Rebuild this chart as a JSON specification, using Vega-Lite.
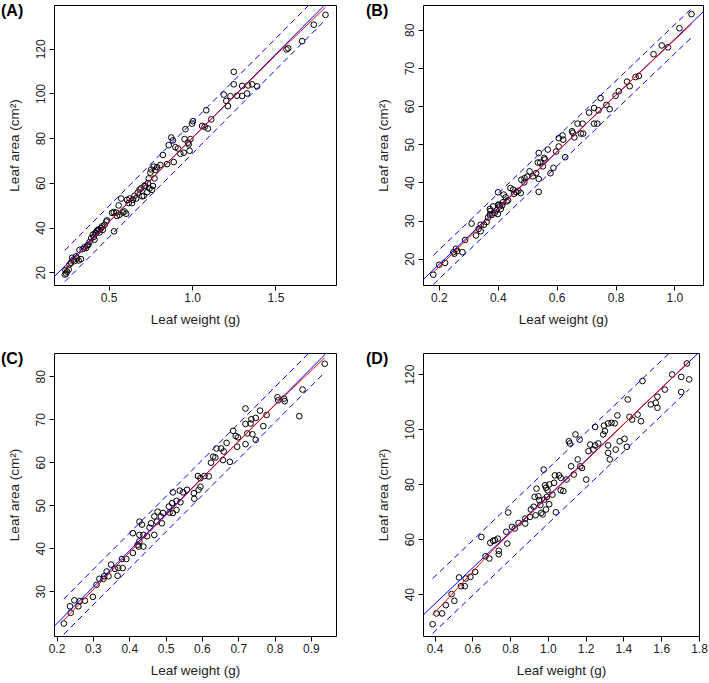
{
"$schema": "https://vega.github.io/schema/vega-lite/v6.json",
"background": "white",
"padding": {"left": 0, "top": 2, "right": 0, "bottom": 2},
"datasets": {
"ptsA": [
{"x":0.237,"y":19.0},{"x":0.24,"y":21.0},{"x":0.245,"y":19.4},{"x":0.25,"y":20.3},{"x":0.26,"y":21.2},{"x":0.265,"y":23.5},{"x":0.274,"y":24.2},{"x":0.28,"y":26.5},{"x":0.288,"y":25.6},{"x":0.295,"y":25.0},{"x":0.304,"y":27.1},{"x":0.31,"y":26.2},{"x":0.32,"y":25.3},{"x":0.325,"y":30.0},{"x":0.334,"y":25.9},{"x":0.344,"y":30.4},{"x":0.355,"y":31.2},{"x":0.364,"y":30.8},{"x":0.372,"y":32.0},{"x":0.378,"y":32.3},{"x":0.385,"y":33.5},{"x":0.395,"y":35.3},{"x":0.405,"y":36.8},{"x":0.41,"y":35.8},{"x":0.415,"y":34.6},{"x":0.42,"y":37.6},{"x":0.425,"y":37.5},{"x":0.43,"y":38.7},{"x":0.435,"y":38.4},{"x":0.44,"y":39.2},{"x":0.445,"y":37.8},{"x":0.455,"y":39.8},{"x":0.46,"y":40.5},{"x":0.465,"y":39.0},{"x":0.475,"y":41.2},{"x":0.485,"y":42.7},{"x":0.49,"y":43.2},{"x":0.532,"y":38.3},{"x":0.52,"y":46.6},{"x":0.53,"y":46.9},{"x":0.545,"y":46.7},{"x":0.55,"y":45.2},{"x":0.56,"y":49.9},{"x":0.565,"y":45.7},{"x":0.575,"y":53.0},{"x":0.585,"y":46.8},{"x":0.595,"y":47.2},{"x":0.605,"y":46.2},{"x":0.61,"y":52.4},{"x":0.62,"y":51.0},{"x":0.625,"y":53.0},{"x":0.64,"y":50.9},{"x":0.645,"y":52.4},{"x":0.655,"y":54.2},{"x":0.665,"y":53.0},{"x":0.675,"y":55.7},{"x":0.685,"y":57.0},{"x":0.695,"y":57.6},{"x":0.70,"y":54.0},{"x":0.71,"y":54.2},{"x":0.715,"y":58.8},{"x":0.72,"y":58.6},{"x":0.73,"y":55.8},{"x":0.735,"y":59.8},{"x":0.74,"y":62.0},{"x":0.745,"y":57.5},{"x":0.75,"y":64.6},{"x":0.755,"y":66.0},{"x":0.76,"y":56.9},{"x":0.765,"y":58.6},{"x":0.77,"y":67.3},{"x":0.775,"y":62.0},{"x":0.78,"y":65.8},{"x":0.79,"y":67.0},{"x":0.81,"y":68.0},{"x":0.825,"y":72.5},{"x":0.85,"y":68.4},{"x":0.86,"y":76.9},{"x":0.875,"y":80.3},{"x":0.885,"y":79.0},{"x":0.89,"y":69.3},{"x":0.90,"y":76.0},{"x":0.915,"y":75.4},{"x":0.93,"y":73.0},{"x":0.95,"y":73.5},{"x":0.955,"y":79.6},{"x":0.96,"y":84.0},{"x":0.975,"y":78.0},{"x":0.98,"y":77.2},{"x":0.985,"y":74.4},{"x":0.99,"y":79.6},{"x":1.0,"y":86.5},{"x":1.005,"y":87.6},{"x":1.06,"y":85.5},{"x":1.075,"y":85.1},{"x":1.085,"y":92.5},{"x":1.095,"y":84.3},{"x":1.115,"y":88.4},{"x":1.19,"y":99.5},{"x":1.205,"y":96.7},{"x":1.215,"y":94.4},{"x":1.23,"y":98.8},{"x":1.25,"y":109.7},{"x":1.25,"y":104.1},{"x":1.27,"y":99.0},{"x":1.30,"y":103.4},{"x":1.30,"y":98.9},{"x":1.33,"y":100.0},{"x":1.336,"y":103.6},{"x":1.36,"y":104.1},{"x":1.39,"y":103.2},{"x":1.566,"y":119.7},{"x":1.576,"y":120.2},{"x":1.66,"y":123.4},{"x":1.73,"y":130.8},{"x":1.80,"y":135.2}
],
"linA": [
{"s":"fit","x":0.10,"y":12.5},{"s":"fit","x":1.95,"y":151.25},
{"s":"upper","x":0.237,"y":29.8},{"s":"upper","x":1.80,"y":147.0},
{"s":"lower","x":0.237,"y":15.8},{"s":"lower","x":1.80,"y":133.0},
{"s":"smooth","x":0.237,"y":21.5},{"s":"smooth","x":0.5,"y":42.3},{"s":"smooth","x":0.8,"y":65.2},{"s":"smooth","x":1.0,"y":80.0},{"s":"smooth","x":1.3,"y":102.2},{"s":"smooth","x":1.5,"y":117.0},{"s":"smooth","x":1.80,"y":138.6}
],
"ptsB": [
{"x":0.181,"y":15.8},{"x":0.201,"y":18.4},{"x":0.221,"y":18.9},{"x":0.249,"y":21.7},{"x":0.252,"y":21.3},{"x":0.258,"y":22.6},{"x":0.262,"y":22.0},{"x":0.28,"y":21.7},{"x":0.289,"y":24.9},{"x":0.311,"y":29.2},{"x":0.326,"y":26.1},{"x":0.335,"y":27.8},{"x":0.342,"y":27.2},{"x":0.342,"y":28.9},{"x":0.353,"y":28.9},{"x":0.362,"y":29.6},{"x":0.367,"y":30.8},{"x":0.373,"y":33.0},{"x":0.373,"y":31.5},{"x":0.375,"y":32.5},{"x":0.38,"y":31.5},{"x":0.384,"y":33.7},{"x":0.39,"y":32.0},{"x":0.396,"y":32.7},{"x":0.40,"y":31.7},{"x":0.401,"y":37.4},{"x":0.401,"y":34.1},{"x":0.405,"y":34.2},{"x":0.407,"y":33.7},{"x":0.41,"y":33.0},{"x":0.415,"y":34.0},{"x":0.418,"y":34.8},{"x":0.42,"y":36.8},{"x":0.427,"y":36.1},{"x":0.43,"y":35.0},{"x":0.435,"y":35.3},{"x":0.443,"y":38.5},{"x":0.452,"y":38.1},{"x":0.455,"y":37.0},{"x":0.463,"y":37.4},{"x":0.47,"y":37.8},{"x":0.478,"y":37.2},{"x":0.48,"y":40.7},{"x":0.49,"y":40.0},{"x":0.491,"y":41.1},{"x":0.50,"y":41.5},{"x":0.508,"y":42.9},{"x":0.519,"y":41.6},{"x":0.53,"y":42.4},{"x":0.536,"y":45.2},{"x":0.539,"y":47.7},{"x":0.539,"y":40.9},{"x":0.539,"y":37.5},{"x":0.544,"y":45.2},{"x":0.553,"y":44.2},{"x":0.558,"y":46.4},{"x":0.56,"y":46.0},{"x":0.57,"y":48.6},{"x":0.579,"y":42.4},{"x":0.589,"y":43.8},{"x":0.598,"y":48.1},{"x":0.607,"y":51.6},{"x":0.607,"y":49.4},{"x":0.62,"y":52.3},{"x":0.622,"y":51.2},{"x":0.629,"y":46.6},{"x":0.652,"y":53.4},{"x":0.655,"y":53.0},{"x":0.66,"y":51.8},{"x":0.671,"y":55.4},{"x":0.682,"y":52.8},{"x":0.69,"y":52.8},{"x":0.688,"y":55.4},{"x":0.71,"y":58.3},{"x":0.727,"y":59.5},{"x":0.727,"y":55.4},{"x":0.738,"y":55.4},{"x":0.742,"y":58.9},{"x":0.749,"y":62.1},{"x":0.769,"y":60.3},{"x":0.78,"y":59.2},{"x":0.80,"y":62.7},{"x":0.811,"y":63.9},{"x":0.839,"y":66.4},{"x":0.848,"y":65.2},{"x":0.868,"y":67.6},{"x":0.879,"y":67.9},{"x":0.929,"y":73.6},{"x":0.957,"y":75.9},{"x":0.978,"y":75.4},{"x":1.017,"y":80.4},{"x":1.058,"y":84.1}
],
"linB": [
{"s":"fit","x":0.10,"y":11.08},{"s":"fit","x":1.15,"y":88.57},
{"s":"upper","x":0.181,"y":20.86},{"s":"upper","x":1.058,"y":85.58},
{"s":"lower","x":0.181,"y":13.26},{"s":"lower","x":1.058,"y":77.98},
{"s":"smooth","x":0.181,"y":16.4},{"s":"smooth","x":0.4,"y":33.0},{"s":"smooth","x":0.6,"y":47.9},{"s":"smooth","x":0.8,"y":62.8},{"s":"smooth","x":1.058,"y":81.5}
],
"ptsC": [
{"x":0.22,"y":22.5},{"x":0.237,"y":26.5},{"x":0.239,"y":25.0},{"x":0.249,"y":27.9},{"x":0.26,"y":26.5},{"x":0.264,"y":27.7},{"x":0.278,"y":27.8},{"x":0.30,"y":28.7},{"x":0.31,"y":31.5},{"x":0.318,"y":32.9},{"x":0.329,"y":32.9},{"x":0.331,"y":33.5},{"x":0.338,"y":34.6},{"x":0.343,"y":33.5},{"x":0.35,"y":36.2},{"x":0.361,"y":35.2},{"x":0.368,"y":33.6},{"x":0.37,"y":35.4},{"x":0.38,"y":37.5},{"x":0.382,"y":35.4},{"x":0.392,"y":37.5},{"x":0.41,"y":43.5},{"x":0.41,"y":38.9},{"x":0.423,"y":40.8},{"x":0.426,"y":40.4},{"x":0.428,"y":46.2},{"x":0.428,"y":43.1},{"x":0.428,"y":41.6},{"x":0.435,"y":45.5},{"x":0.439,"y":43.1},{"x":0.439,"y":40.4},{"x":0.449,"y":42.8},{"x":0.456,"y":44.8},{"x":0.46,"y":45.8},{"x":0.469,"y":47.4},{"x":0.469,"y":43.1},{"x":0.476,"y":46.2},{"x":0.478,"y":48.5},{"x":0.487,"y":47.4},{"x":0.49,"y":45.8},{"x":0.493,"y":48.2},{"x":0.509,"y":49.7},{"x":0.511,"y":48.3},{"x":0.518,"y":50.5},{"x":0.52,"y":53.0},{"x":0.52,"y":48.2},{"x":0.53,"y":51.0},{"x":0.53,"y":48.9},{"x":0.539,"y":53.4},{"x":0.541,"y":50.7},{"x":0.548,"y":53.0},{"x":0.559,"y":53.6},{"x":0.578,"y":52.8},{"x":0.579,"y":51.5},{"x":0.589,"y":56.8},{"x":0.591,"y":53.6},{"x":0.596,"y":56.3},{"x":0.596,"y":54.3},{"x":0.607,"y":56.8},{"x":0.619,"y":56.7},{"x":0.625,"y":59.9},{"x":0.631,"y":61.3},{"x":0.637,"y":61.1},{"x":0.64,"y":63.2},{"x":0.653,"y":63.2},{"x":0.658,"y":60.5},{"x":0.66,"y":62.5},{"x":0.668,"y":64.5},{"x":0.677,"y":60.1},{"x":0.686,"y":67.3},{"x":0.693,"y":66.1},{"x":0.697,"y":63.6},{"x":0.699,"y":65.8},{"x":0.72,"y":72.5},{"x":0.72,"y":68.9},{"x":0.72,"y":64.2},{"x":0.725,"y":66.7},{"x":0.734,"y":69.0},{"x":0.736,"y":70.0},{"x":0.739,"y":66.5},{"x":0.748,"y":70.3},{"x":0.748,"y":65.2},{"x":0.76,"y":72.0},{"x":0.769,"y":68.4},{"x":0.778,"y":71.0},{"x":0.808,"y":75.1},{"x":0.81,"y":74.4},{"x":0.826,"y":74.8},{"x":0.828,"y":74.2},{"x":0.868,"y":70.7},{"x":0.877,"y":76.9},{"x":0.938,"y":82.9}
],
"linC": [
{"s":"fit","x":0.15,"y":18.17},{"s":"fit","x":1.0,"y":90.25},
{"s":"upper","x":0.22,"y":28.2},{"s":"upper","x":0.938,"y":89.09},
{"s":"lower","x":0.22,"y":20.0},{"s":"lower","x":0.938,"y":80.89},
{"s":"smooth","x":0.22,"y":23.3},{"s":"smooth","x":0.4,"y":39.0},{"s":"smooth","x":0.6,"y":56.2},{"s":"smooth","x":0.8,"y":73.2},{"s":"smooth","x":0.938,"y":84.3}
],
"ptsD": [
{"x":0.39,"y":29.1},{"x":0.41,"y":33.0},{"x":0.44,"y":33.0},{"x":0.46,"y":36.0},{"x":0.49,"y":40.0},{"x":0.505,"y":37.6},{"x":0.53,"y":46.1},{"x":0.54,"y":42.9},{"x":0.56,"y":42.9},{"x":0.565,"y":45.7},{"x":0.59,"y":46.3},{"x":0.615,"y":48.1},{"x":0.648,"y":60.8},{"x":0.67,"y":53.8},{"x":0.69,"y":53.0},{"x":0.695,"y":58.7},{"x":0.71,"y":59.4},{"x":0.72,"y":59.6},{"x":0.735,"y":60.2},{"x":0.74,"y":55.8},{"x":0.74,"y":54.5},{"x":0.78,"y":62.7},{"x":0.785,"y":58.4},{"x":0.79,"y":69.7},{"x":0.81,"y":64.5},{"x":0.825,"y":63.9},{"x":0.845,"y":65.9},{"x":0.88,"y":65.7},{"x":0.88,"y":67.5},{"x":0.905,"y":68.1},{"x":0.91,"y":70.8},{"x":0.925,"y":71.8},{"x":0.935,"y":68.7},{"x":0.94,"y":78.4},{"x":0.93,"y":75.4},{"x":0.95,"y":75.6},{"x":0.955,"y":74.2},{"x":0.96,"y":72.4},{"x":0.965,"y":69.6},{"x":0.978,"y":85.3},{"x":0.985,"y":79.6},{"x":0.995,"y":75.4},{"x":1.007,"y":72.7},{"x":0.981,"y":74.4},{"x":0.99,"y":70.8},{"x":0.972,"y":69.0},{"x":1.042,"y":69.8},{"x":1.007,"y":79.9},{"x":0.99,"y":78.7},{"x":0.998,"y":77.8},{"x":1.024,"y":76.2},{"x":1.033,"y":80.5},{"x":1.037,"y":83.2},{"x":1.059,"y":83.2},{"x":1.068,"y":82.3},{"x":1.068,"y":77.8},{"x":1.082,"y":77.5},{"x":1.099,"y":81.7},{"x":1.137,"y":83.5},{"x":1.123,"y":86.5},{"x":1.172,"y":86.5},{"x":1.181,"y":85.9},{"x":1.203,"y":81.7},{"x":1.111,"y":95.6},{"x":1.116,"y":94.8},{"x":1.146,"y":98.1},{"x":1.158,"y":89.0},{"x":1.168,"y":96.2},{"x":1.215,"y":92.0},{"x":1.224,"y":94.4},{"x":1.241,"y":92.6},{"x":1.25,"y":94.1},{"x":1.25,"y":100.8},{"x":1.267,"y":94.8},{"x":1.293,"y":98.1},{"x":1.297,"y":101.3},{"x":1.302,"y":99.3},{"x":1.319,"y":102.1},{"x":1.319,"y":94.1},{"x":1.319,"y":91.4},{"x":1.328,"y":89.0},{"x":1.337,"y":102.3},{"x":1.354,"y":102.1},{"x":1.359,"y":92.6},{"x":1.368,"y":105.0},{"x":1.38,"y":95.6},{"x":1.406,"y":96.5},{"x":1.418,"y":93.6},{"x":1.423,"y":110.8},{"x":1.432,"y":104.5},{"x":1.446,"y":103.5},{"x":1.475,"y":105.3},{"x":1.493,"y":102.9},{"x":1.501,"y":117.5},{"x":1.545,"y":109.0},{"x":1.571,"y":109.6},{"x":1.58,"y":111.8},{"x":1.58,"y":107.8},{"x":1.619,"y":114.4},{"x":1.658,"y":119.9},{"x":1.706,"y":119.0},{"x":1.706,"y":113.5},{"x":1.736,"y":123.9},{"x":1.748,"y":118.1}
],
"linD": [
{"s":"fit","x":0.3,"y":29.82},{"s":"fit","x":1.85,"y":131.19},
{"s":"upper","x":0.39,"y":45.7},{"s":"upper","x":1.748,"y":134.52},
{"s":"lower","x":0.39,"y":25.7},{"s":"lower","x":1.748,"y":114.52},
{"s":"smooth","x":0.39,"y":32.5},{"s":"smooth","x":0.52,"y":42.0},{"s":"smooth","x":0.7,"y":55.5},{"s":"smooth","x":0.9,"y":68.8},{"s":"smooth","x":1.1,"y":81.8},{"s":"smooth","x":1.3,"y":95.0},{"s":"smooth","x":1.5,"y":108.4},{"s":"smooth","x":1.748,"y":124.6}
]
},
"vconcat": [
{"hconcat": [
{"width": 282, "height": 280, "title": {"text": "(A)", "dx": -53},
 "encoding": {
  "x": {"field": "x", "type": "quantitative", "scale": {"domain": [0.172, 1.863], "nice": false, "zero": false}, "axis": {"title": "Leaf weight (g)", "values": [0.5, 1.0, 1.5], "format": ".1f"}},
  "y": {"field": "y", "type": "quantitative", "scale": {"domain": [14.3, 139.6], "nice": false, "zero": false}, "axis": {"title": "Leaf area (cm²)", "values": [20, 40, 60, 80, 100, 120], "format": "d"}}
 },
 "layer": [
  {"data": {"name": "ptsA"}, "mark": {"type": "point", "shape": "circle", "filled": false, "stroke": "black", "strokeWidth": 1, "size": 32, "opacity": 1}},
  {"data": {"name": "linA"}, "transform": [{"filter": "datum.s === 'fit'"}], "mark": {"type": "line", "stroke": "#0000FF", "strokeWidth": 1, "clip": true}, "encoding": {}},
  {"data": {"name": "linA"}, "transform": [{"filter": "datum.s === 'upper' || datum.s === 'lower'"}], "mark": {"type": "line", "stroke": "#0000FF", "strokeWidth": 1, "strokeDash": [6, 4], "clip": true}, "encoding": {"detail": {"field": "s"}}},
  {"data": {"name": "linA"}, "transform": [{"filter": "datum.s === 'smooth'"}], "mark": {"type": "line", "stroke": "#FF0000", "strokeWidth": 1, "clip": true}, "encoding": {}}
 ]},
{"width": 280, "height": 280, "title": {"text": "(B)", "dx": -57},
 "encoding": {
  "x": {"field": "x", "type": "quantitative", "scale": {"domain": [0.146, 1.097], "nice": false, "zero": false}, "axis": {"title": "Leaf weight (g)", "values": [0.2, 0.4, 0.6, 0.8, 1.0], "format": ".1f"}},
  "y": {"field": "y", "type": "quantitative", "scale": {"domain": [13.1, 86.5], "nice": false, "zero": false}, "axis": {"title": "Leaf area (cm²)", "values": [20, 30, 40, 50, 60, 70, 80], "format": "d"}}
 },
 "layer": [
  {"data": {"name": "ptsB"}, "mark": {"type": "point", "shape": "circle", "filled": false, "stroke": "black", "strokeWidth": 1, "size": 32, "opacity": 1}},
  {"data": {"name": "linB"}, "transform": [{"filter": "datum.s === 'fit'"}], "mark": {"type": "line", "stroke": "#0000FF", "strokeWidth": 1, "clip": true}, "encoding": {}},
  {"data": {"name": "linB"}, "transform": [{"filter": "datum.s === 'upper' || datum.s === 'lower'"}], "mark": {"type": "line", "stroke": "#0000FF", "strokeWidth": 1, "strokeDash": [6, 4], "clip": true}, "encoding": {"detail": {"field": "s"}}},
  {"data": {"name": "linB"}, "transform": [{"filter": "datum.s === 'smooth'"}], "mark": {"type": "line", "stroke": "#FF0000", "strokeWidth": 1, "clip": true}, "encoding": {}}
 ]}
], "spacing": 28},
{"hconcat": [
{"width": 282, "height": 283, "title": {"text": "(C)", "dx": -53},
 "encoding": {
  "x": {"field": "x", "type": "quantitative", "scale": {"domain": [0.193, 0.969], "nice": false, "zero": false}, "axis": {"title": "Leaf weight (g)", "values": [0.2, 0.3, 0.4, 0.5, 0.6, 0.7, 0.8, 0.9], "format": ".1f"}},
  "y": {"field": "y", "type": "quantitative", "scale": {"domain": [19.6, 85.4], "nice": false, "zero": false}, "axis": {"title": "Leaf area (cm²)", "values": [30, 40, 50, 60, 70, 80], "format": "d"}}
 },
 "layer": [
  {"data": {"name": "ptsC"}, "mark": {"type": "point", "shape": "circle", "filled": false, "stroke": "black", "strokeWidth": 1, "size": 32, "opacity": 1}},
  {"data": {"name": "linC"}, "transform": [{"filter": "datum.s === 'fit'"}], "mark": {"type": "line", "stroke": "#0000FF", "strokeWidth": 1, "clip": true}, "encoding": {}},
  {"data": {"name": "linC"}, "transform": [{"filter": "datum.s === 'upper' || datum.s === 'lower'"}], "mark": {"type": "line", "stroke": "#0000FF", "strokeWidth": 1, "strokeDash": [6, 4], "clip": true}, "encoding": {"detail": {"field": "s"}}},
  {"data": {"name": "linC"}, "transform": [{"filter": "datum.s === 'smooth'"}], "mark": {"type": "line", "stroke": "#FF0000", "strokeWidth": 1, "clip": true}, "encoding": {}}
 ]},
{"width": 276, "height": 283, "title": {"text": "(D)", "dx": -57},
 "encoding": {
  "x": {"field": "x", "type": "quantitative", "scale": {"domain": [0.339, 1.80], "nice": false, "zero": false}, "axis": {"title": "Leaf weight (g)", "values": [0.4, 0.6, 0.8, 1.0, 1.2, 1.4, 1.6, 1.8], "format": ".1f"}},
  "y": {"field": "y", "type": "quantitative", "scale": {"domain": [24.8, 127.7], "nice": false, "zero": false}, "axis": {"title": "Leaf area (cm²)", "values": [40, 60, 80, 100, 120], "format": "d"}}
 },
 "layer": [
  {"data": {"name": "ptsD"}, "mark": {"type": "point", "shape": "circle", "filled": false, "stroke": "black", "strokeWidth": 1, "size": 32, "opacity": 1}},
  {"data": {"name": "linD"}, "transform": [{"filter": "datum.s === 'fit'"}], "mark": {"type": "line", "stroke": "#0000FF", "strokeWidth": 1, "clip": true}, "encoding": {}},
  {"data": {"name": "linD"}, "transform": [{"filter": "datum.s === 'upper' || datum.s === 'lower'"}], "mark": {"type": "line", "stroke": "#0000FF", "strokeWidth": 1, "strokeDash": [6, 4], "clip": true}, "encoding": {"detail": {"field": "s"}}},
  {"data": {"name": "linD"}, "transform": [{"filter": "datum.s === 'smooth'"}], "mark": {"type": "line", "stroke": "#FF0000", "strokeWidth": 1, "clip": true}, "encoding": {}}
 ]}
], "spacing": 28}
],
"spacing": 24,
"config": {
 "view": {"stroke": "black", "strokeWidth": 1},
 "axis": {"grid": false, "domain": false, "tickColor": "black", "tickSize": 5, "labelFont": "Liberation Sans", "labelFontSize": 12, "labelColor": "#222222", "titleFont": "Liberation Sans", "titleFontSize": 13.5, "titleFontWeight": "normal", "titleColor": "#222222", "labelPadding": 2, "labelFlush": false, "labelOverlap": false},
 "axisX": {"titlePadding": 9},
 "axisY": {"labelAngle": -90, "labelAlign": "center", "labelBaseline": "bottom", "titlePadding": 13},
 "title": {"anchor": "start", "frame": "group", "fontSize": 16, "fontWeight": "bold", "font": "Liberation Sans", "color": "black", "offset": 0, "dy": 18}
}
}
